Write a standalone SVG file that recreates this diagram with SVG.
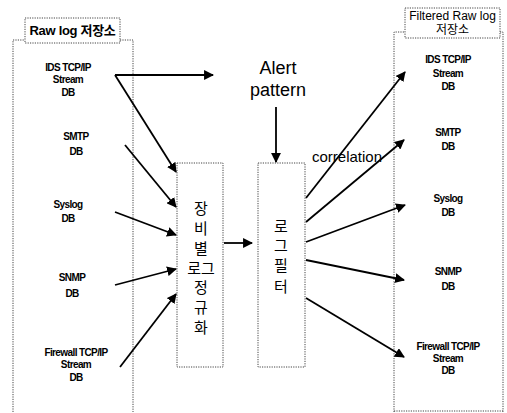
<svg xmlns="http://www.w3.org/2000/svg" width="507" height="413" viewBox="0 0 507 413">
<defs>
<marker id="ah" viewBox="0 0 10 10" refX="9" refY="5" markerWidth="5.5" markerHeight="5.5" orient="auto" markerUnits="strokeWidth">
<path d="M0,0 L10,5 L0,10 z" fill="#000"/>
</marker>
<style>
.dot{fill:none;stroke:#444;stroke-width:1;stroke-dasharray:1.2 1.2}
.box{fill:#fff;stroke:#444;stroke-width:1;stroke-dasharray:1.2 1.2}
.db{font-family:"Liberation Sans",Arial,sans-serif;font-size:10px;font-weight:bold;letter-spacing:-0.6px;text-anchor:middle;fill:#000}
.lbl{font-family:"Liberation Sans","Noto Sans CJK KR",sans-serif;text-anchor:middle;fill:#000}
.kr{font-family:"Noto Sans CJK KR","Liberation Sans",sans-serif;font-size:15px;text-anchor:middle;fill:#000}
.ar{stroke:#000;stroke-width:1.8;fill:none;marker-end:url(#ah)}
</style>
</defs>
<rect width="507" height="413" fill="#fff"/>

<g id="raw-store">
<path class="dot" d="M13,412 V40 H25 M120,40 H133 V412"/>
<rect class="box" x="25" y="18" width="95" height="25"/>
<text class="lbl" x="72.5" y="35" font-size="13" font-weight="bold" letter-spacing="-0.3">Raw log 저장소</text>
</g>

<g id="raw-ids"><text class="db"><tspan x="68" y="71">IDS TCP/IP</tspan><tspan x="68" y="83">Stream</tspan><tspan x="68" y="96">DB</tspan></text></g>
<g id="raw-smtp"><text class="db"><tspan x="76" y="140">SMTP</tspan><tspan x="76" y="155">DB</tspan></text></g>
<g id="raw-syslog"><text class="db"><tspan x="68" y="208">Syslog</tspan><tspan x="68" y="222">DB</tspan></text></g>
<g id="raw-snmp"><text class="db"><tspan x="72" y="281">SNMP</tspan><tspan x="72" y="297">DB</tspan></text></g>
<g id="raw-fw"><text class="db"><tspan x="76" y="356">Firewall TCP/IP</tspan><tspan x="76" y="368">Stream</tspan><tspan x="76" y="381">DB</tspan></text></g>

<g id="alert">
<text class="lbl" x="278" y="74" font-size="18">Alert</text>
<text class="lbl" x="278" y="96" font-size="18">pattern</text>
</g>

<g id="normalize">
<rect class="box" x="177" y="163" width="46" height="204"/>
<text class="kr"><tspan x="201" y="214">장</tspan><tspan x="201" y="234">비</tspan><tspan x="201" y="254">별</tspan><tspan x="201" y="274">로그</tspan><tspan x="201" y="293">정</tspan><tspan x="201" y="313">규</tspan><tspan x="201" y="333">화</tspan></text>
</g>

<g id="filter">
<rect class="box" x="258" y="163" width="47" height="204"/>
<text class="kr" font-size="12.5"><tspan x="281" y="232">로</tspan><tspan x="281" y="251">그</tspan><tspan x="281" y="271">필</tspan><tspan x="281" y="292">터</tspan></text>
</g>

<g id="filtered-store">
<path class="dot" d="M394,412 V32 H405 M500,32 H503 V412"/>
<path class="dot" d="M394,411 H503"/>
<rect class="box" x="405" y="8" width="95" height="30"/>
<text class="lbl" font-size="12"><tspan x="452.5" y="20">Filtered Raw log</tspan><tspan x="452.5" y="34">저장소</tspan></text>
</g>

<g id="f-ids"><text class="db"><tspan x="448" y="63">IDS TCP/IP</tspan><tspan x="448" y="77">Stream</tspan><tspan x="448" y="90">DB</tspan></text></g>
<g id="f-smtp"><text class="db"><tspan x="448" y="136">SMTP</tspan><tspan x="448" y="150">DB</tspan></text></g>
<g id="f-syslog"><text class="db"><tspan x="448" y="202">Syslog</tspan><tspan x="448" y="216">DB</tspan></text></g>
<g id="f-snmp"><text class="db"><tspan x="448" y="275">SNMP</tspan><tspan x="448" y="290">DB</tspan></text></g>
<g id="f-fw"><text class="db"><tspan x="448" y="350">Firewall TCP/IP</tspan><tspan x="448" y="362">Stream</tspan><tspan x="448" y="374">DB</tspan></text></g>

<g id="connectors">
<line class="ar" x1="115" y1="75" x2="213" y2="75"/>
<line class="ar" x1="115" y1="75" x2="176" y2="172"/>
<line class="ar" x1="125" y1="145" x2="176" y2="207"/>
<line class="ar" x1="115" y1="212" x2="176" y2="235"/>
<line class="ar" x1="115" y1="285" x2="176" y2="269"/>
<line class="ar" x1="120" y1="367" x2="176" y2="294"/>
<line class="ar" x1="224" y1="243" x2="252" y2="243"/>
<line class="ar" x1="276" y1="107" x2="276" y2="162"/>
<line class="ar" x1="306" y1="198" x2="405" y2="72"/>
<line class="ar" x1="306" y1="222" x2="404" y2="140"/>
<line class="ar" x1="306" y1="242" x2="405" y2="205"/>
<line class="ar" x1="306" y1="260" x2="404" y2="280"/>
<line class="ar" x1="306" y1="298" x2="404" y2="357"/>
<text class="lbl" x="347" y="162" font-size="15">correlation</text>
</g>
</svg>
